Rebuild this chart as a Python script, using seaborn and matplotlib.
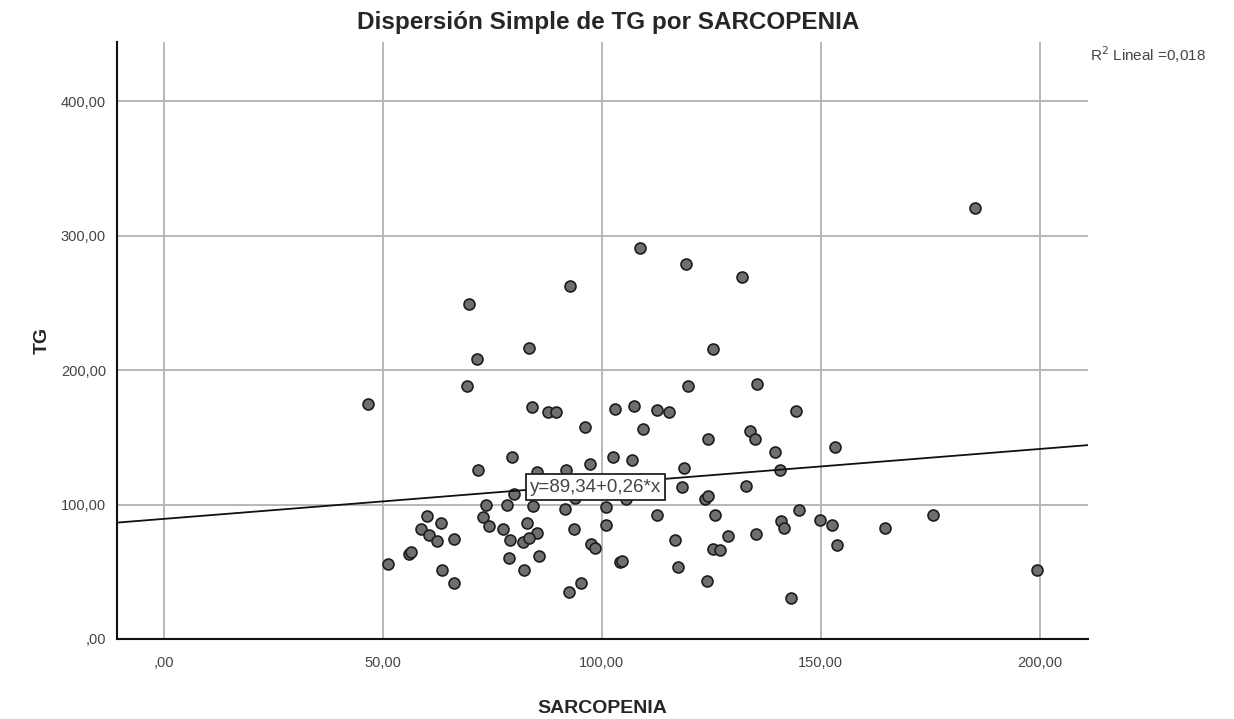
import matplotlib
matplotlib.use("Agg")
import matplotlib.pyplot as plt
import seaborn as sns
import numpy as np
import pandas as pd

# Sarcopenia index and triglycerides (TG) for each participant
sarcopenia = [
    46.6, 84.0, 87.7, 89.5, 96.1, 79.6, 97.3, 71.8, 85.1, 91.9,
    79.9, 73.5, 78.4, 84.3, 91.6, 93.8, 60.1, 63.2, 72.9, 74.3,
    58.6, 60.6, 62.3, 66.2, 77.5, 83.0, 85.1, 79.1, 82.0, 83.4,
    93.6, 97.6, 98.4, 56.0, 56.4, 51.2, 63.4, 66.3, 78.8, 85.6,
    82.3, 95.3, 92.5, 119.7, 135.5, 103.0, 107.3, 112.5, 115.4, 144.4,
    109.3, 124.3, 133.8, 134.9, 139.5, 153.2, 102.6, 106.8, 118.8, 140.6,
    133.0, 118.2, 105.6, 123.5, 124.2, 100.9, 112.6, 125.9, 145.0, 149.8,
    152.6, 141.0, 141.6, 101.0, 128.8, 135.3, 116.7, 153.8, 125.4, 126.9,
    104.1, 104.7, 117.3, 123.9, 143.2, 108.7, 92.7, 69.6, 83.4, 71.5,
    69.2, 119.3, 131.9, 125.4, 164.7, 175.6, 199.4, 185.2,
]
tg = [
    174.5, 172.5, 169.0, 169.0, 158.0, 135.0, 130.0, 126.0, 124.4, 126.0,
    108.0, 100.0, 100.0, 99.0, 97.0, 105.0, 91.5, 86.5, 91.0, 84.0,
    81.5, 77.0, 73.0, 74.6, 81.5, 86.5, 79.0, 73.4, 72.3, 75.3,
    81.5, 70.4, 67.9, 63.0, 64.5, 55.5, 51.0, 42.0, 60.5, 61.7,
    51.3, 41.4, 35.2, 188.0, 190.0, 171.0, 173.0, 170.0, 169.0, 169.5,
    156.0, 149.0, 155.0, 148.5, 139.0, 143.0, 135.0, 133.0, 127.0, 125.5,
    114.0, 113.0, 104.0, 104.0, 106.0, 98.0, 92.0, 92.0, 95.7, 88.5,
    85.0, 87.7, 82.8, 84.5, 76.6, 78.3, 73.4, 69.7, 67.0, 66.0,
    57.2, 58.0, 53.5, 43.0, 30.3, 290.5, 262.5, 249.3, 216.6, 208.4,
    188.3, 278.6, 269.4, 216.0, 82.3, 92.2, 51.0, 320.7,
]

# Linear fit reported on the chart
intercept = 89.34
slope = 0.26
r_squared = "0,018"

x_ticks = [0, 50, 100, 150, 200]
x_tick_labels = [",00", "50,00", "100,00", "150,00", "200,00"]
y_ticks = [0, 100, 200, 300, 400]
y_tick_labels = [",00", "100,00", "200,00", "300,00", "400,00"]

df = pd.DataFrame({"SARCOPENIA": sarcopenia, "TG": tg})

sns.set_theme(style="white")
plt.rcParams["font.family"] = ["Liberation Sans", "DejaVu Sans"]

fig = plt.figure(figsize=(12.34, 7.19), dpi=100)
ax = fig.add_axes([117 / 1234, 1 - 639 / 719, (1088 - 117) / 1234, (639 - 42) / 719])

xlim = (-10.7, 211.0)
ylim = (0, 444)
ax.set_xlim(*xlim)
ax.set_ylim(*ylim)

# Reference grid
for xv in x_ticks:
    ax.axvline(xv, color="#b8b8b8", lw=1.4, zorder=0)
for yv in y_ticks[1:]:
    ax.axhline(yv, color="#b8b8b8", lw=1.4, zorder=0)

sns.scatterplot(data=df, x="SARCOPENIA", y="TG", ax=ax, s=62,
                color="#6f6f6f", edgecolor="#1c1c1c", linewidth=1.2, zorder=3)

# Fit line across the full x range
xs = np.array(xlim)
ax.plot(xs, intercept + slope * xs, color="#111111", lw=1.3, zorder=4)

ax.text(83.6, 113, "y=89,34+0,26*x", fontsize=13.5, color="#444444",
        va="center", ha="left", zorder=6,
        bbox=dict(boxstyle="square,pad=0.22", facecolor="white",
                  edgecolor="#222222", linewidth=1.3))

for side in ("top", "right"):
    ax.spines[side].set_visible(False)
for side in ("left", "bottom"):
    ax.spines[side].set_color("#111111")
    ax.spines[side].set_linewidth(1.5)

ax.set_xticks(x_ticks)
ax.set_xticklabels(x_tick_labels)
ax.set_yticks(y_ticks)
ax.set_yticklabels(y_tick_labels)
ax.tick_params(axis="both", length=0, labelsize=10.5, labelcolor="#444444")
ax.tick_params(axis="x", pad=12)
ax.tick_params(axis="y", pad=8)

ax.set_xlabel("SARCOPENIA", fontsize=14, fontweight="bold", labelpad=22)
ax.set_ylabel("TG", fontsize=14, fontweight="bold", labelpad=7)

fig.text(608 / 1234, 1 - 22 / 719, "Dispersión Simple de TG por SARCOPENIA",
         ha="center", va="center", fontsize=17.5, fontweight="bold")
fig.text(1090 / 1234, 1 - 55 / 719, "R$^2$ Lineal =" + r_squared,
         ha="left", va="center", fontsize=11, color="#444444")

fig.savefig("out.png", dpi=100, facecolor="white")
